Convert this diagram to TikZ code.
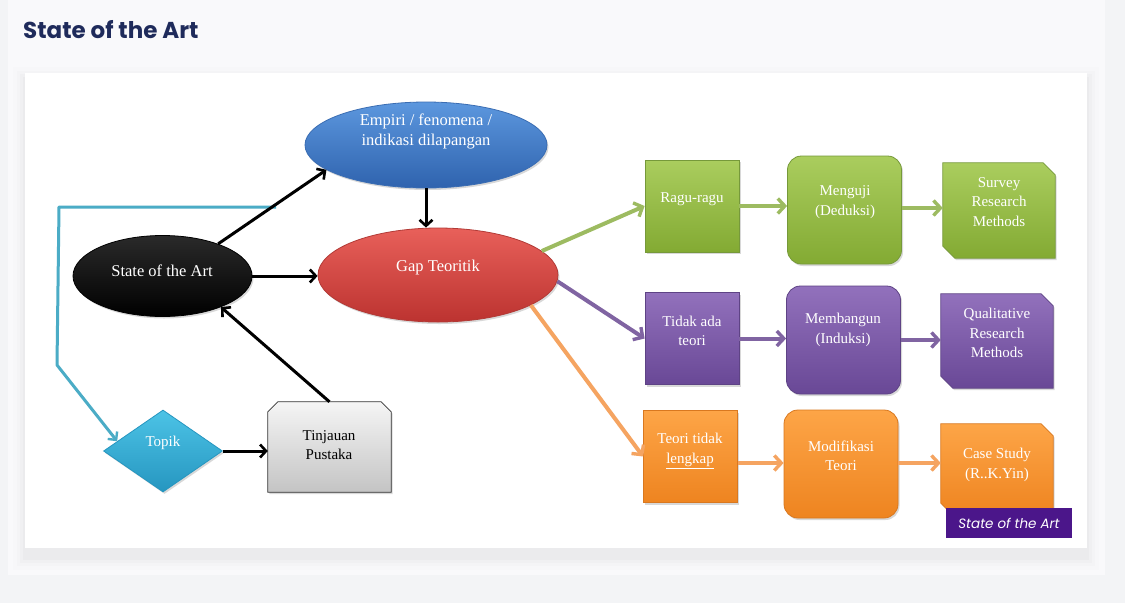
\documentclass[tikz,border=0pt]{standalone}
\usepackage{fontspec}
\setmainfont{Liberation Serif}
\newfontfamily\popfont{Poppins}
\usetikzlibrary{shapes.geometric,arrows.meta,shadows,calc}
\definecolor{pagebg}{HTML}{F3F4F6}
\definecolor{panelbg}{HTML}{F9F9FB}
\definecolor{titlecol}{HTML}{1F2B5B}
\definecolor{badgecol}{HTML}{4B168A}
\definecolor{blueT}{HTML}{5C97DE}\definecolor{blueB}{HTML}{2F63AE}\definecolor{blueD}{HTML}{3A6DB3}
\definecolor{redT}{HTML}{E8605A}\definecolor{redB}{HTML}{BC3330}\definecolor{redD}{HTML}{B23A36}
\definecolor{blkT}{HTML}{2A2A2A}\definecolor{blkB}{HTML}{000000}
\definecolor{cyanT}{HTML}{4CC3E6}\definecolor{cyanB}{HTML}{2696C0}
\definecolor{cyanL}{HTML}{4BACC6}
\definecolor{grayT}{HTML}{F5F5F5}\definecolor{grayB}{HTML}{C4C4C4}
\definecolor{grnT}{HTML}{AACD5E}\definecolor{grnB}{HTML}{83AA33}\definecolor{grnD}{HTML}{76993A}\definecolor{grnA}{HTML}{9DBB61}
\definecolor{purT}{HTML}{9271BC}\definecolor{purB}{HTML}{694896}\definecolor{purD}{HTML}{5E4385}\definecolor{purA}{HTML}{8064A2}
\definecolor{orgT}{HTML}{FDA547}\definecolor{orgB}{HTML}{EE8420}\definecolor{orgD}{HTML}{D9781F}\definecolor{orgA}{HTML}{F5A461}
\tikzset{
  shd/.style={drop shadow={shadow xshift=1.5pt,shadow yshift=-2pt,opacity=0.3}},
  shp/.style={inner sep=0pt, line width=0.8pt, shd},
  frame/.style={rectangle, inner sep=0pt},
  wt/.style={text=white, font=\fontsize{15}{19.5}\selectfont, align=center, inner sep=0pt},
  wtbig/.style={text=white, font=\fontsize{16.5}{20}\selectfont, align=center, inner sep=0pt},
  blkarrow/.style={draw=black, line width=3pt, -{Straight Barb[length=6pt,width=13pt,line width=2.6pt]}},
  colarrow/.style={line width=4pt, -{Straight Barb[length=7pt,width=15pt,line width=3.4pt]}},
  sqbox/.style={shp, rectangle, minimum width=94pt, minimum height=92pt},
  rndbox/.style={shp, rectangle, rounded corners=14pt, minimum width=114pt, minimum height=108pt},
  green/.style={top color=grnT, bottom color=grnB, draw=grnD},
  purple/.style={top color=purT, bottom color=purB, draw=purD},
  orange/.style={top color=orgT, bottom color=orgB, draw=orgD},
}
% snipped box drawn on the border of a named frame node: #1 node, #2 style, #3 cut
\newcommand{\snipbox}[3]{%
  \path[#2, line width=0.8pt, shd] (#1.north west) -- ($(#1.north east)+(-#3,0)$) -- ($(#1.north east)+(0,#3)$)
    -- (#1.south east) -- ($(#1.south west)+(#3,0)$) -- ($(#1.south west)+(0,-#3)$) -- cycle;}
\begin{document}
\begin{tikzpicture}[x=1pt,y=-1pt]
\useasboundingbox (0,0) rectangle (1125,603);
\fill[pagebg] (0,0) rectangle (1125,603);
\fill[panelbg] (8,0) rectangle (1105,575);
% card shadow
\foreach \d/\o in {12/0.008,8/0.011,5/0.014,2/0.018}{
  \fill[black,opacity=\o] (25-\d,73-\d+6) rectangle (1087+\d,548+\d+10);
}
\fill[white] (25,73) rectangle (1087,548);

\node[font=\popfont\bfseries\fontsize{23}{27}\selectfont, text=titlecol, anchor=west, inner sep=0pt] (title) at (23,30) {State of the Art};

% left part
\node[shp, ellipse, minimum width=242pt, minimum height=86pt, top color=blueT, bottom color=blueB, draw=blueD] (empiri) at (426,145) {};
\node[wtbig] (empiri-t) at (426,131) {Empiri / fenomena /\\indikasi dilapangan};

\node[shp, ellipse, minimum width=240pt, minimum height=94pt, top color=redT, bottom color=redB, draw=redD] (gap) at (438,275) {};
\node[wtbig] (gap-t) at (438,268) {Gap Teoritik};

\node[shp, ellipse, minimum width=179pt, minimum height=81pt, top color=blkT, bottom color=blkB, draw=black] (state) at (162.5,276) {};
\node[wtbig] (state-t) at (162,271) {State of the Art};

\node[shp, diamond, minimum width=119pt, minimum height=82pt, top color=cyanT, bottom color=cyanB, draw=cyanB] (topik) at (163,451) {};
\node[wt] (topik-t) at (163,443) {Topik};

\node[frame, minimum width=123pt, minimum height=90pt] (tinj) at (329.5,447) {};
\path[top color=grayT, bottom color=grayB, draw=black!80, line width=0.8pt, shd]
  ($(tinj.north west)+(0,10)$) -- ($(tinj.north west)+(10,0)$) -- ($(tinj.north east)+(-10,0)$) -- ($(tinj.north east)+(0,10)$)
  -- (tinj.south east) -- (tinj.south west) -- cycle;
\node[wt, text=black] (tinj-t) at (329,445) {Tinjauan\\Pustaka};

% cyan connector
\coordinate (cstart) at (276,207);
\draw[cyanL, line width=3pt, line join=round, -{Straight Barb[length=6pt,width=12pt,line width=2.4pt]}]
  (cstart) -- (59,207) -- (57,365) -- (topik.168);

% black arrows
\draw[blkarrow] (state.30) -- (empiri.194);
\draw[blkarrow] (empiri.south) -- (empiri.south |- gap.north);
\draw[blkarrow] (state.east) -- (state.east -| gap.west);
\draw[blkarrow] (tinj.north) -- (state.-28);
\draw[blkarrow] (topik.east) -- (topik.east -| tinj.west);

% right part - row 1
\node[sqbox, green] (ragu) at (692,206) {};
\node[wt] (ragu-t) at (692,199) {Ragu-ragu};
\node[rndbox, green] (menguji) at (844.5,210) {};
\node[wt] (menguji-t) at (845,202) {Menguji\\(Deduksi)};
\node[frame, minimum width=112pt, minimum height=95pt] (survey) at (999,210.5) {};
\snipbox{survey}{green}{12}
\node[wt] (survey-t) at (999,202) {Survey\\Research\\Methods};

% row 2
\node[sqbox, purple] (tidak) at (692,338.5) {};
\node[wt] (tidak-t) at (692,331) {Tidak ada\\teori};
\node[rndbox, purple] (membangun) at (843.5,340) {};
\node[wt] (membangun-t) at (843,330) {Membangun\\(Induksi)};
\node[frame, minimum width=112pt, minimum height=94pt] (qual) at (997,341) {};
\snipbox{qual}{purple}{12}
\node[wt] (qual-t) at (997,333) {Qualitative\\Research\\Methods};

% row 3
\node[sqbox, orange] (teori) at (690.5,456.5) {};
\node[wt] (teori-t) at (690,451) {Teori tidak\\\underline{lengkap}};
\node[rndbox, orange] (modif) at (841,464) {};
\node[wt] (modif-t) at (841,456) {Modifikasi\\Teori};
\node[frame, minimum width=112pt, minimum height=91pt] (case) at (997,469.5) {};
\snipbox{case}{orange}{12}
\node[wt] (case-t) at (997,465) {Case Study\\(R..K.Yin)};

% coloured arrows from gap
\draw[colarrow, grnA] (gap.13) -- (ragu.west);
\draw[colarrow, purA] (gap.-3) -- (tidak.west);
\draw[colarrow, orgA] (gap.-18) -- (teori.west);
% row arrows
\draw[colarrow, grnA] (ragu.east) -- (ragu.east -| menguji.west);
\draw[colarrow, grnA] (menguji.east |- 0,208) -- (survey.west |- 0,208);
\draw[colarrow, purA] (tidak.east) -- (tidak.east -| membangun.west);
\draw[colarrow, purA] (membangun.east |- 0,340) -- (qual.west |- 0,340);
\draw[colarrow, orgA] (teori.east |- 0,463) -- (modif.west |- 0,463);
\draw[colarrow, orgA] (modif.east |- 0,463) -- (case.west |- 0,463);

% badge
\node[fill=badgecol, text=white, font=\popfont\itshape\fontsize{13.5}{16}\selectfont,
  minimum width=126pt, minimum height=30pt, inner sep=0pt] (badge) at (1009,523) {State of the Art};
\end{tikzpicture}
\end{document}
